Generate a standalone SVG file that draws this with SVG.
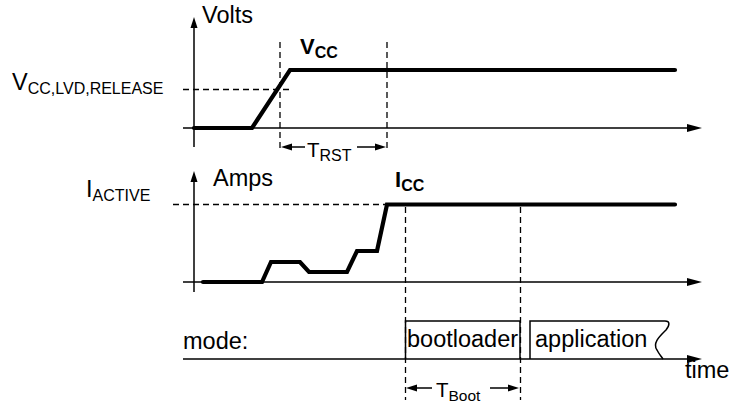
<svg xmlns="http://www.w3.org/2000/svg" width="729" height="405" viewBox="0 0 729 405">
<style>
text{font-family:"Liberation Sans",Arial,Helvetica,sans-serif;fill:#000}
.lbl{font-size:23.5px}
.sub{font-size:16px}
.b{font-weight:bold}
.ax{stroke:#000;stroke-width:1.5;fill:none}
.dash{stroke:#000;stroke-width:1.3;fill:none;stroke-dasharray:6,4}
.trace{stroke:#000;stroke-width:4.2;fill:none;stroke-linejoin:miter;stroke-linecap:round}
.box{stroke:#000;stroke-width:1.5;fill:none}
.ah{fill:#000}
</style>
<rect width="729" height="405" fill="#fff"/>

<g id="volts-axes">
  <line class="ax" x1="194" y1="26" x2="194" y2="147"/>
  <polygon class="ah" points="194,17 190.5,28 197.5,28"/>
  <line class="ax" x1="183" y1="128" x2="690" y2="128"/>
  <polygon class="ah" points="702,128 687,124 687,132"/>
  <text class="lbl" x="202" y="23">Volts</text>
</g>

<g id="vlvd-label">
  <text class="lbl" x="12" y="90">V<tspan class="sub" dy="4">CC,LVD,RELEASE</tspan></text>
  <line class="dash" x1="183" y1="89.5" x2="290" y2="89.5"/>
</g>

<g id="vcc-trace">
  <polyline class="trace" points="194,128 252,128 290,70 675,70"/>
  <text class="b" x="300" y="54" style="font-size:22px">V<tspan dy="4" style="font-size:16px">CC</tspan></text>
</g>

<g id="trst">
  <line class="dash" x1="280" y1="42" x2="280" y2="150"/>
  <line class="dash" x1="387" y1="42" x2="387" y2="150"/>
  <line class="ax" x1="288" y1="147" x2="305" y2="147"/>
  <polygon class="ah" points="281,147 292,143.5 292,150.5"/>
  <line class="ax" x1="357" y1="147" x2="378" y2="147"/>
  <polygon class="ah" points="386,147 375,143.5 375,150.5"/>
  <text x="307" y="157" style="font-size:20.5px">T<tspan dy="4" style="font-size:16px">RST</tspan></text>
</g>

<g id="amps-axes">
  <line class="ax" x1="194" y1="180" x2="194" y2="292"/>
  <polygon class="ah" points="194,171 190.5,182 197.5,182"/>
  <line class="ax" x1="183" y1="282" x2="690" y2="282"/>
  <polygon class="ah" points="702,282 687,278 687,286"/>
  <text class="lbl" x="213" y="186">Amps</text>
</g>

<g id="iactive-label">
  <text class="lbl" x="86" y="197">I<tspan class="sub" dy="4">ACTIVE</tspan></text>
  <line class="dash" x1="173" y1="204.5" x2="386" y2="204.5"/>
</g>

<g id="icc-trace">
  <polyline class="trace" points="203,282 262,282 271,262 300,262 309,272 347,272 357,251 377,251 387,204.5 675,204.5"/>
  <text class="b" x="395" y="187" style="font-size:22px">I<tspan dy="4" style="font-size:16px">CC</tspan></text>
</g>

<g id="tboot">
  <line class="dash" x1="405.5" y1="207" x2="405.5" y2="400"/>
  <line class="dash" x1="520.5" y1="207" x2="520.5" y2="400"/>
  <line class="ax" x1="413" y1="388" x2="432" y2="388"/>
  <polygon class="ah" points="406,388 417,384.5 417,391.5"/>
  <line class="ax" x1="490" y1="388" x2="511" y2="388"/>
  <polygon class="ah" points="519,388 508,384.5 508,391.5"/>
  <text x="436" y="397" style="font-size:20.5px">T<tspan dy="4" style="font-size:15.5px">Boot</tspan></text>
</g>

<g id="mode-axis">
  <line class="ax" x1="183" y1="359" x2="690" y2="359"/>
  <polygon class="ah" points="702,359 687,355 687,363"/>
  <text class="lbl" x="183" y="349">mode:</text>
  <text class="lbl" x="685" y="378">time</text>
</g>

<g id="bootloader">
  <polyline class="box" points="405.5,359 405.5,321 520,321 520,359"/>
  <text class="lbl" x="407" y="347">bootloader</text>
</g>

<g id="application">
  <path class="box" d="M530,359 L530,321 L665,321 C670,321 670,325 666,330 C660,336 652,343 657,350 C659,354 661,356 663,359"/>
  <text class="lbl" x="535" y="347">application</text>
</g>
</svg>
